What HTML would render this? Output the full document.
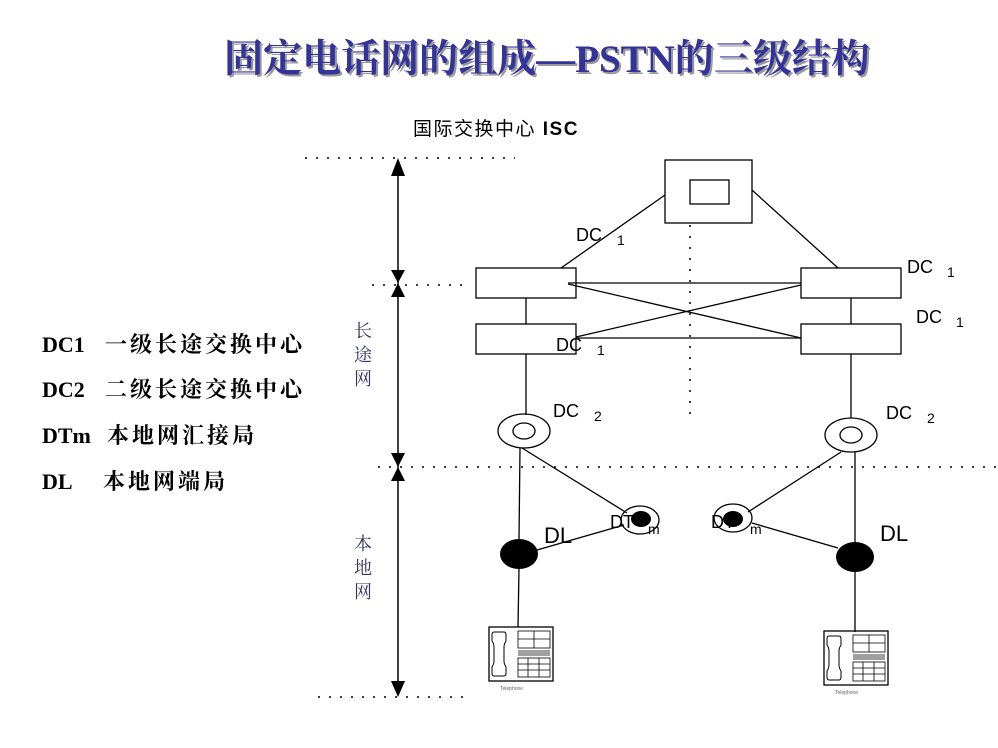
<!DOCTYPE html>
<html><head><meta charset="utf-8"><style>
body{margin:0;background:#fff;}
svg{display:block}
</style></head><body>
<svg width="998" height="748" viewBox="0 0 998 748" xmlns="http://www.w3.org/2000/svg" font-family="Liberation Sans, sans-serif">
<text x="547" y="72" text-anchor="middle" font-family="Liberation Serif, Noto Serif CJK SC, serif" font-weight="bold" font-size="39" fill="#999" transform="translate(2,2)">固定电话网的组成—PSTN的三级结构</text>
<text x="547" y="72" text-anchor="middle" font-family="Liberation Serif, Noto Serif CJK SC, serif" font-weight="bold" font-size="39" fill="#333399">固定电话网的组成—PSTN的三级结构</text>
<text x="413" y="135" font-size="19" font-family="Liberation Sans, Noto Sans CJK SC, sans-serif" fill="#000" letter-spacing="1.5">国际交换中心 <tspan font-weight="bold">ISC</tspan></text>
<g font-family="Liberation Serif, Noto Serif CJK SC, serif" font-weight="bold" font-size="22" fill="#000">
<text x="42" y="352">DC1</text><text x="105" y="352" letter-spacing="3">一级长途交换中心</text>
<text x="42" y="397">DC2</text><text x="105" y="397" letter-spacing="3">二级长途交换中心</text>
<text x="42" y="443">DTm</text><text x="107" y="443" letter-spacing="3">本地网汇接局</text>
<text x="42" y="489">DL</text><text x="103" y="489" letter-spacing="3">本地网端局</text>
</g>
<g font-family="Liberation Serif, Noto Serif CJK SC, serif" font-size="18" fill="#333366">
<text x="354" y="337">长</text><text x="354" y="361">途</text><text x="354" y="385">网</text>
<text x="354" y="550">本</text><text x="354" y="574">地</text><text x="354" y="598">网</text>
</g>
<g stroke="#000" stroke-width="1.5" stroke-dasharray="2,9" fill="none">
<line x1="305" y1="158" x2="515" y2="158"/>
<line x1="372" y1="285" x2="470" y2="285"/>
<line x1="378" y1="467" x2="998" y2="467"/>
<line x1="318" y1="697" x2="465" y2="697"/>
<line x1="690" y1="225" x2="690" y2="420"/>
</g>
<g stroke="#000" stroke-width="1.5">
<line x1="398" y1="170" x2="398" y2="690"/>
</g>
<g fill="#000">
<polygon points="398,158 391,176 405,176"/>
<polygon points="398,283 391,270 405,270"/>
<polygon points="398,283 391,297 405,297"/>
<polygon points="398,467 391,453 405,453"/>
<polygon points="398,467 391,481 405,481"/>
<polygon points="398,697 391,681 405,681"/>
</g>
<g stroke="#000" stroke-width="1.3" fill="none">
<rect x="665" y="160" width="87" height="63"/>
<rect x="690" y="180" width="39" height="24"/>
<line x1="665" y1="195" x2="561" y2="268"/>
<line x1="752" y1="190" x2="838" y2="268"/>
<rect x="476" y="268" width="100" height="30"/>
<rect x="801" y="268" width="100" height="30"/>
<rect x="476" y="324" width="100" height="30"/>
<rect x="801" y="324" width="100" height="30"/>
<line x1="568" y1="283" x2="801" y2="283"/>
<line x1="576" y1="338" x2="801" y2="338"/>
<line x1="568" y1="284" x2="801" y2="338"/>
<line x1="576" y1="337" x2="801" y2="285"/>
<line x1="526" y1="298" x2="526" y2="324"/>
<line x1="851" y1="298" x2="851" y2="324"/>
<line x1="526" y1="354" x2="526" y2="415"/>
<line x1="851" y1="354" x2="851" y2="418"/>
<ellipse cx="524" cy="431" rx="26" ry="17"/>
<ellipse cx="524" cy="431" rx="11" ry="8"/>
<ellipse cx="851" cy="435" rx="26" ry="17"/>
<ellipse cx="851" cy="435" rx="11" ry="8"/>
<line x1="520" y1="448" x2="519" y2="540"/>
<line x1="855" y1="452" x2="855" y2="542"/>
<line x1="522" y1="448" x2="627" y2="513"/>
<line x1="841" y1="452" x2="748" y2="512"/>
<line x1="537" y1="550" x2="624" y2="525"/>
<line x1="752" y1="523" x2="838" y2="548"/>
<ellipse cx="640" cy="520" rx="19" ry="14"/>
<ellipse cx="733" cy="518" rx="19" ry="14"/>
<line x1="519" y1="568" x2="518" y2="627"/>
<line x1="855" y1="571" x2="855" y2="632"/>
</g>
<g fill="#000">
<ellipse cx="641" cy="519" rx="10" ry="8"/>
<ellipse cx="733" cy="519" rx="10" ry="8"/>
<ellipse cx="519" cy="554" rx="19" ry="15"/>
<ellipse cx="855" cy="557" rx="19" ry="15"/>
</g>
<g font-size="18" fill="#000">
<text x="576" y="241">DC</text><text x="617" y="245" font-size="14">1</text>
<text x="907" y="273">DC</text><text x="947" y="277" font-size="14">1</text>
<text x="916" y="323">DC</text><text x="956" y="327" font-size="14">1</text>
<text x="556" y="351">DC</text><text x="597" y="355" font-size="14">1</text>
<text x="553" y="417">DC</text><text x="594" y="421" font-size="14">2</text>
<text x="886" y="419">DC</text><text x="927" y="423" font-size="14">2</text>
<text x="610" y="528">DT</text><text x="648" y="534" font-size="14">m</text>
<text x="711" y="528">DT</text><text x="750" y="534" font-size="14">m</text>
<text x="544" y="543" font-size="22">DL</text>
<text x="880" y="541" font-size="22">DL</text>
</g>
<g id="ph">
<rect x="489" y="627" width="64" height="54" fill="none" stroke="#000" stroke-width="1.3"/>
<path d="M494,632 h10 q2,0 2,3 v6 q-2,3 -2,6 v14 q0,3 2,6 v6 q0,3 -2,3 h-10 q-2,0 -2,-3 v-6 q2,-3 2,-6 v-14 q0,-3 -2,-6 v-6 q0,-3 2,-3z" fill="none" stroke="#000" stroke-width="1"/>
<g stroke="#000" stroke-width="0.8" fill="none">
<rect x="518" y="631" width="32" height="17"/>
<line x1="534" y1="631" x2="534" y2="648"/>
<line x1="518" y1="639" x2="550" y2="639"/>
<line x1="518" y1="651" x2="550" y2="651"/>
<line x1="518" y1="653" x2="550" y2="653"/>
<line x1="518" y1="655" x2="550" y2="655"/>
<rect x="518" y="658" width="32" height="19"/>
<line x1="528" y1="658" x2="528" y2="677"/><line x1="539" y1="658" x2="539" y2="677"/>
<line x1="518" y1="664" x2="550" y2="664"/><line x1="518" y1="670" x2="550" y2="670"/>
</g>
<text x="500" y="690" font-size="5" fill="#666">Telephone</text>
</g>
<use href="#ph" transform="translate(335,4)"/>
</svg>
</body></html>
